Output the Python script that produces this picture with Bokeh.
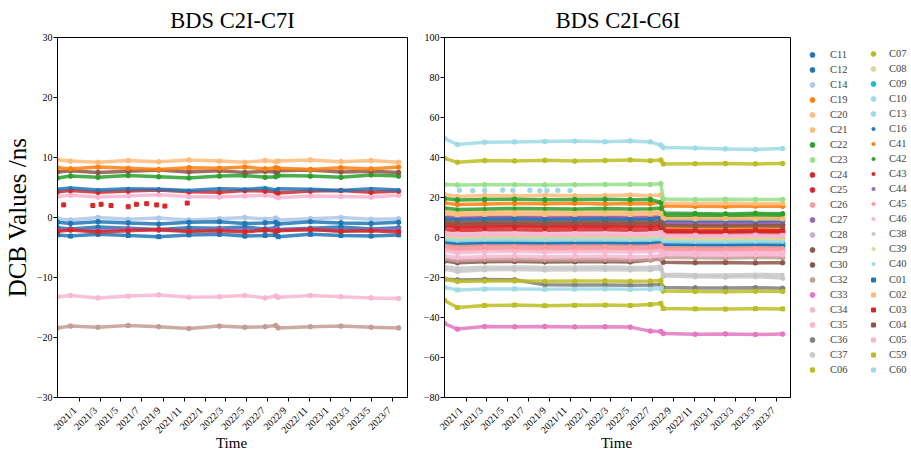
import math
import pandas as pd
from bokeh.plotting import figure
from bokeh.models import Range1d, FixedTicker, Legend, LegendItem
from bokeh.layouts import row, column
from bokeh.core.properties import value
from bokeh.embed import file_html
from bokeh.resources import INLINE

NAN = float("nan")

# ---------------- data ----------------
TICK_LABELS = ["2021/1", "2021/3", "2021/5", "2021/7", "2021/9", "2021/11",
               "2022/1", "2022/3", "2022/5", "2022/7", "2022/9", "2022/11",
               "2023/1", "2023/3", "2023/5", "2023/7"]
XLIM = ["2020-10-28", "2023-08-14"]

DATES = ["2020-10-28", "2020-12-05", "2021-02-23", "2021-05-22", "2021-08-19",
         "2021-11-15", "2022-02-12", "2022-04-27", "2022-06-25", "2022-07-26",
         "2022-08-02", "2022-11-04", "2023-02-01", "2023-04-30", "2023-07-19"]

# ---- left panel: BDS C2I-C7I ----
L_C20 = [9.6, 9.4, 9.2, 9.5, 9.3, 9.6, 9.4, 9.2, 9.5, 9.3, 9.4, 9.6, 9.3, 9.5, 9.2]
L_C19 = [8.3, 8.1, 8.4, 8.2, 8.0, 8.3, 8.2, 8.4, 8.1, 8.3, 8.2, 8.0, 8.3, 8.1, 8.4]
L_C29 = [7.6, 7.8, 7.5, 7.7, 7.9, 7.6, 7.8, 7.5, 7.7, 7.6, 7.8, 7.9, 7.6, 7.7, 7.5]
L_C22 = [6.6, 6.9, 6.7, 7.0, 6.8, 6.6, 6.9, 7.0, 6.7, 6.8, 7.0, 6.9, 6.7, 7.1, 6.9]
L_C16 = [4.7, 4.9, 4.6, 4.8, 4.7, 4.5, 4.8, 4.7, 4.9, 4.6, 4.8, 4.7, 4.5, 4.8, 4.6]
L_C24 = [4.3, 4.5, 4.2, 4.4, 4.6, 4.3, 4.2, 4.5, 4.4, 4.3, 4.1, 4.4, 4.5, 4.2, 4.4]
L_C35 = [3.5, 3.7, 3.4, 3.6, 3.8, 3.5, 3.4, 3.6, 3.7, 3.5, 3.3, 3.6, 3.5, 3.4, 3.7]
L_C14 = [-0.2, -0.4, 0.0, -0.3, -0.1, -0.4, -0.2, 0.0, -0.3, -0.1, -0.4, -0.2, 0.0, -0.3, -0.2]
L_C12 = [-0.8, -1.0, -0.7, -0.9, -1.1, -0.8, -0.7, -1.0, -0.9, -0.8, -1.1, -0.7, -0.9, -1.0, -0.8]
L_C11 = [-1.7, -1.9, -1.6, -1.8, -2.0, -1.7, -1.8, -1.6, -1.9, -1.7, -2.0, -1.8, -1.6, -1.9, -1.7]
L_C27 = [-2.1, -2.0, -2.2, -1.9, -2.1, -2.3, -2.0, -2.1, -2.2, -1.9, -2.1, -2.0, -2.2, -2.1, -2.0]
L_C25 = [-2.3, -2.1, -2.4, -2.2, -2.0, -2.3, -2.2, -2.4, -2.1, -2.3, -2.2, -2.0, -2.3, -2.2, -2.4]
L_C01 = [-2.9, -3.1, -2.8, -3.0, -3.2, -2.9, -2.8, -3.1, -3.0, -2.9, -3.2, -2.8, -3.0, -3.1, -2.9]
L_C34 = [-13.2, -13.0, -13.4, -13.1, -12.9, -13.3, -13.2, -13.0, -13.4, -13.1, -13.3, -13.0, -13.2, -13.4, -13.5]
L_C32 = [-18.4, -18.1, -18.3, -18.0, -18.2, -18.5, -18.1, -18.3, -18.2, -18.0, -18.4, -18.2, -18.1, -18.3, -18.4]
# sparse C03 points (left panel)
L_C03_DATES = ["2020-11-15", "2021-02-08", "2021-03-04", "2021-04-02", "2021-05-22",
               "2021-06-15", "2021-07-15", "2021-08-13", "2021-09-06", "2021-11-10"]
L_C03 = [2.1, 2.0, 2.2, 2.0, 1.8, 2.2, 2.3, 2.1, 1.9, 2.4]

# ---- right panel: BDS C2I-C6I ----
R_C13 = [49.5, 46.5, 47.6, 47.8, 48.0, 48.2, 47.9, 48.3, 47.8, 46.2, 45.0, 44.7, 44.3, 44.0, 44.5]
R_C07 = [39.6, 37.6, 38.5, 38.3, 38.6, 38.2, 38.5, 38.8, 38.4, 38.7, 36.8, 36.9, 37.0, 36.8, 37.0]
R_C23 = [26.5, 26.3, 26.4, 26.4, 26.3, 26.4, 26.5, 26.6, 26.5, 26.9, 19.3, 19.0, 19.1, 19.0, 19.0]
R_C20 = [21.5, 20.5, 21.0, 20.8, 21.1, 20.9, 21.0, 21.2, 20.9, 21.3, 17.2, 17.0, 17.1, 16.9, 17.0]
R_C22 = [19.5, 18.8, 19.0, 19.1, 18.9, 19.0, 19.1, 18.9, 19.0, 17.5, 12.3, 12.0, 11.8, 12.1, 11.9]
R_C19 = [17.3, 16.5, 16.8, 17.0, 16.9, 17.1, 16.8, 17.0, 16.9, 17.5, 15.8, 15.6, 15.5, 15.7, 15.6]
R_C42 = [14.8, 14.0, 14.3, 14.5, 14.4, 14.2, 14.5, 14.3, 14.4, 14.8, 11.0, 11.2, 11.0, 11.3, 11.1]
R_C21 = [13.2, 12.4, 12.8, 12.9, 12.7, 12.8, 12.9, 12.7, 12.8, 13.3, 10.2, 10.0, 9.9, 10.1, 10.0]
R_C02 = [12.0, 11.3, 11.6, 11.7, 11.5, 11.6, 11.8, 11.5, 11.7, 12.0, 9.5, 9.3, 9.4, 9.2, 9.3]
R_C27 = [10.8, 10.0, 10.3, 10.4, 10.2, 10.3, 10.4, 10.2, 10.3, 10.8, 8.3, 8.1, 8.0, 8.2, 8.1]
R_C44 = [10.2, 9.6, 9.9, 10.0, 9.8, 9.9, 10.0, 9.8, 9.9, 10.3, 7.6, 7.5, 7.4, 7.6, 7.5]
R_C29 = [9.8, 9.2, 9.5, 9.6, 9.4, 9.5, 9.6, 9.4, 9.5, 10.0, 6.5, 6.3, 6.2, 6.4, 6.3]
R_C01 = [9.3, 8.8, 9.0, 9.1, 8.9, 9.0, 9.1, 8.9, 9.0, 9.5, 8.8, 8.6, 8.7, 8.5, 8.7]
R_C41 = [8.8, 8.2, 8.5, 8.6, 8.4, 8.5, 8.6, 8.4, 8.5, 9.0, 4.8, 4.6, 4.5, 4.7, 4.6]
R_C04 = [7.5, 7.0, 7.2, 7.3, 7.1, 7.2, 7.3, 7.1, 7.2, 7.7, 6.0, 5.8, 5.7, 5.9, 5.8]
R_C24 = [7.8, 7.0, 7.5, 7.6, 7.4, 7.5, 7.6, 7.4, 7.5, 8.0, 3.1, 2.9, 2.8, 3.0, 2.9]
R_C03 = [6.2, 5.6, 5.9, 6.0, 5.8, 5.9, 6.0, 5.8, 5.9, 6.3, 3.6, 3.4, 3.3, 3.5, 3.4]
R_C25 = [5.6, 5.0, 5.3, 5.4, 5.2, 5.3, 5.4, 5.2, 5.3, 5.8, 2.5, 2.3, 2.2, 2.4, 2.3]
R_C43 = [3.9, 3.4, 3.7, 3.8, 3.6, 3.7, 3.8, 3.6, 3.7, 4.2, 1.9, 1.7, 1.6, 1.8, 1.7]
R_C05 = [2.3, 1.8, 2.0, 2.1, 1.9, 2.0, 2.1, 1.9, 2.0, 2.5, 1.3, 1.1, 1.0, 1.2, 1.1]
R_C46 = [1.5, 1.0, 1.3, 1.4, 1.2, 1.3, 1.4, 1.2, 1.3, 1.8, 0.6, 0.4, 0.3, 0.5, 0.4]
R_C08 = [1.0, 0.5, 0.8, 0.9, 0.7, 0.8, 0.9, 0.7, 0.8, 1.2, 0.0, -0.2, -0.3, -0.1, -0.2]
R_C28 = [0.5, 0.0, 0.3, 0.4, 0.2, 0.3, 0.4, 0.2, 0.3, 0.8, -0.5, -0.7, -0.8, -0.6, -0.7]
R_C39 = [-0.4, -0.9, -0.6, -0.5, -0.7, -0.6, -0.5, -0.7, -0.6, -0.2, -1.0, -1.2, -1.3, -1.1, -1.2]
R_C40 = [-1.0, -1.6, -1.3, -1.2, -1.4, -1.3, -1.2, -1.4, -1.3, -0.9, -2.0, -2.2, -2.3, -2.1, -2.2]
R_C09 = [-1.6, -2.2, -1.9, -1.8, -2.0, -1.9, -1.8, -2.0, -1.9, -1.5, -2.6, -2.8, -2.9, -2.7, -2.8]
R_C16 = [-2.2, -2.8, -2.5, -2.4, -2.6, -2.5, -2.4, -2.6, -2.5, -2.0, -3.2, -3.4, -3.5, -3.3, -3.4]
R_C11 = [-2.6, -3.4, -3.0, -2.8, -3.1, -2.9, -2.8, -3.0, -2.9, -2.3, -3.6, -3.8, -3.9, -3.7, -3.8]
R_C12 = [-3.3, -4.0, -3.6, -3.5, -3.7, -3.6, -3.5, -3.7, -3.6, -3.0, -4.4, -4.6, -4.7, -4.5, -4.6]
R_C45 = [-4.0, -4.6, -4.3, -4.2, -4.4, -4.3, -4.2, -4.4, -4.3, -3.8, -5.0, -5.2, -5.3, -5.1, -5.2]
R_C14 = [-4.8, -5.5, -5.1, -5.0, -5.2, -5.1, -5.0, -5.2, -5.1, -4.6, -5.7, -5.9, -6.0, -5.8, -5.9]
R_C26 = [-5.5, -6.2, -5.8, -5.7, -5.9, -5.8, -5.7, -5.9, -5.8, -5.3, -6.3, -6.5, -6.6, -6.4, -6.5]
R_C34 = [-6.8, -7.6, -7.1, -7.0, -7.2, -7.1, -7.0, -7.2, -7.1, -6.6, -7.4, -7.6, -7.7, -7.5, -7.6]
R_C35 = [-9.2, -10.0, -9.5, -9.4, -9.6, -9.5, -9.4, -9.6, -9.5, -9.0, -8.5, -8.7, -8.8, -8.6, -8.7]
R_C32 = [-10.8, -11.6, -11.1, -11.0, -11.2, -11.1, -11.0, -11.2, -11.1, -10.6, -9.9, -10.1, -10.2, -10.0, -10.1]
R_C30 = [-11.8, -12.6, -12.1, -12.0, -12.2, -12.1, -12.0, -12.2, -11.2, -10.8, -12.4, -12.6, -12.5, -12.7, -12.6]
R_C38 = [-14.6, -15.4, -14.9, -14.8, -15.0, -14.9, -14.8, -15.0, -14.9, -14.4, -18.4, -18.6, -18.7, -18.5, -18.6]
R_C37 = [-15.8, -17.0, -16.1, -16.0, -16.2, -16.1, -16.0, -16.2, -16.1, -15.6, -19.3, -19.6, -19.8, -19.5, -20.3]
R_C36 = [-20.8, -21.2, -21.0, -21.1, -23.6, -23.8, -23.7, -23.9, -23.8, -23.5, -25.0, -25.2, -25.3, -25.1, -25.4]
R_C06 = [-21.0, -22.0, -21.8, -21.7, -21.9, -21.8, -21.7, -21.9, -21.8, -21.5, -26.8, -27.0, -27.1, -26.9, -27.0]
R_C60 = [-25.0, -26.2, -25.8, -25.7, -25.9, -25.8, -25.7, -25.9, -25.8, -25.5, NAN, NAN, NAN, NAN, NAN]
R_C59 = [-31.5, -35.0, -34.0, -33.8, -34.1, -33.9, -33.8, -34.0, -33.5, -33.0, -35.5, -35.7, -35.8, -35.6, -35.7]
R_C33 = [-43.0, -45.8, -44.5, -44.6, -44.5, -44.7, -44.6, -44.8, -46.8, -47.0, -48.0, -48.4, -48.2, -48.5, -48.3]
# sparse C10 points (right panel)
R_C10_DATES = ["2020-12-11", "2021-01-19", "2021-02-23", "2021-04-17", "2021-05-17",
               "2021-07-06", "2021-08-04", "2021-08-25", "2021-09-26", "2021-11-01"]
R_C10 = [23.6, 23.4, 23.5, 23.7, 23.5, 23.6, 23.4, 23.5, 23.6, 23.5]

LEGEND_COL1 = ["C11", "C12", "C14", "C19", "C20", "C21", "C22", "C23", "C24", "C25", "C26",
               "C27", "C28", "C29", "C30", "C32", "C33", "C34", "C35", "C36", "C37", "C06"]
LEGEND_COL2 = ["C07", "C08", "C09", "C10", "C13", "C16", "C41", "C42", "C43", "C44", "C45",
               "C46", "C38", "C39", "C40", "C01", "C02", "C03", "C04", "C05", "C59", "C60"]

# ---------------- styles ----------------
COLOR = {
    "C11": "#1f77b4", "C12": "#1f77b4", "C14": "#aec7e8", "C19": "#ff7f0e", "C20": "#ffbb78",
    "C21": "#ffbb78", "C22": "#2ca02c", "C23": "#98df8a", "C24": "#d62728", "C25": "#d62728",
    "C26": "#ff9896", "C27": "#9467bd", "C28": "#c5b0d5", "C29": "#8c564b", "C30": "#8c564b",
    "C32": "#c49c94", "C33": "#e377c2", "C34": "#f7b6d2", "C35": "#f7b6d2", "C36": "#7f7f7f",
    "C37": "#c7c7c7", "C06": "#bcbd22", "C07": "#bcbd22", "C08": "#dbdb8d", "C09": "#17becf",
    "C10": "#9edae5", "C13": "#9edae5", "C16": "#1f77b4", "C41": "#ff7f0e", "C42": "#2ca02c",
    "C43": "#d62728", "C44": "#9467bd", "C45": "#ff9896", "C46": "#f7b6d2", "C38": "#c7c7c7",
    "C39": "#dbdb8d", "C40": "#9edae5", "C01": "#1f77b4", "C02": "#ffbb78", "C03": "#d62728",
    "C04": "#8c564b", "C05": "#f7b6d2", "C59": "#bcbd22", "C60": "#9edae5",
}
SMALL = {"C16", "C41", "C42", "C43", "C44", "C45", "C46", "C38", "C39", "C40"}
SQUARE = {"C01", "C02", "C03", "C04", "C05", "C59", "C60"}

SERIF = "Liberation Serif"
BASE = pd.Timestamp("2021-01-01")


def to_days(ds):
    return [(pd.Timestamp(d) - BASE).days for d in ds]


def label_day(lab):
    y, m = lab.split("/")
    return (pd.Timestamp(int(y), int(m), 1) - BASE).days


TICK_X = [label_day(t) for t in TICK_LABELS]
X0, X1 = to_days(XLIM)
XD = to_days(DATES)

TOP = 29         # title band above the frames
FH = 368         # frame height
BOTTOM = 7       # tick marks below the frames
TOP_H = TOP + FH + BOTTOM
LAB_H = 45       # tick-label / "Time" strip below
PAD = 5          # extra room left of the strip frames (same scale)

W1, L1, R1 = 420, 55, 13     # left figure: width, left border, right border
W2, L2, R2 = 371, 21, 0      # right figure
W3 = 120                     # legend column


def marker_of(s):
    if s in SQUARE:
        return "square", 4.0
    if s in SMALL:
        return "circle", 3.0
    return "circle", 4.6


def style(p, yticks):
    p.title.text_font = SERIF
    p.title.text_font_size = "22.5px"
    p.title.text_font_style = "normal"
    p.title.align = "center"
    p.title.text_color = "black"
    p.xgrid.visible = False
    p.ygrid.visible = False
    p.outline_line_color = "black"
    p.outline_line_width = 1
    p.xaxis.ticker = FixedTicker(ticks=TICK_X)
    p.xaxis.major_label_overrides = {int(t): "" for t in TICK_X}
    p.xaxis.major_label_text_font_size = "0px"
    p.xaxis.major_label_standoff = 0
    p.yaxis.ticker = FixedTicker(ticks=yticks)
    p.yaxis.major_label_text_font = SERIF
    p.yaxis.major_label_text_font_size = "10px"
    p.yaxis.major_label_text_color = "black"
    p.yaxis.major_label_standoff = 1
    for ax in (p.xaxis, p.yaxis):
        ax.axis_line_color = "black"
        ax.major_tick_line_color = "black"
        ax.minor_tick_line_color = None
        ax.major_tick_in = 0
        ax.major_tick_out = 4
        ax.axis_label_text_font = SERIF
        ax.axis_label_text_font_style = "normal"
        ax.axis_label_text_color = "black"


def label_strip(width, left, right):
    frame_w = width - left - right
    span = X1 - X0
    q = figure(width=width, height=LAB_H, title=None, output_backend="svg",
               toolbar_location=None,
               x_range=Range1d(X0 - span * PAD / frame_w, X1), y_range=Range1d(-LAB_H, 0),
               x_axis_location=None, y_axis_location=None,
               min_border_left=left - PAD, min_border_right=right,
               min_border_top=0, min_border_bottom=0)
    q.outline_line_color = None
    q.xgrid.visible = False
    q.ygrid.visible = False
    q.text(x=TICK_X, y=[-4] * len(TICK_X), text=TICK_LABELS, angle=math.pi / 4,
           text_align="right", text_baseline="middle", x_offset=-3,
           text_font=value(SERIF), text_font_size=value("10px"), text_color="black")
    q.text(x=[(X0 + X1) / 2], y=[-38], text=["Time"], text_align="center",
           text_baseline="middle", text_font=value(SERIF), text_font_size=value("15px"),
           text_color="black")
    return q


def draw(p, name, xs, ys, lw, with_line=True):
    mk, sz = marker_of(name)
    c = COLOR[name]
    if with_line:
        p.line(xs, ys, line_color=c, line_width=lw, line_alpha=0.85)
    p.scatter(xs, ys, marker=mk, size=sz, fill_color=c, line_color=c)


# ---------------- left figure ----------------
p1 = figure(width=W1, height=TOP_H, title="BDS C2I-C7I", output_backend="svg",
            toolbar_location=None, x_range=Range1d(X0, X1), y_range=Range1d(-30, 30),
            min_border_left=L1, min_border_right=R1, min_border_top=TOP, min_border_bottom=BOTTOM)
style(p1, [-30, -20, -10, 0, 10, 20, 30])
p1.yaxis.axis_label = "DCB Values /ns"
p1.yaxis.axis_label_text_font_size = "25px"
p1.yaxis.axis_label_standoff = 3

LEFT = [("C32", L_C32), ("C34", L_C34), ("C14", L_C14), ("C12", L_C12), ("C11", L_C11),
        ("C01", L_C01), ("C27", L_C27), ("C25", L_C25), ("C35", L_C35), ("C24", L_C24),
        ("C16", L_C16), ("C22", L_C22), ("C29", L_C29), ("C19", L_C19), ("C20", L_C20)]
for name, vals in LEFT:
    draw(p1, name, XD, vals, 3.5)
draw(p1, "C03", to_days(L_C03_DATES), L_C03, 0, with_line=False)

# ---------------- right figure ----------------
p2 = figure(width=W2, height=TOP_H, title="BDS C2I-C6I", output_backend="svg",
            toolbar_location=None, x_range=Range1d(X0, X1), y_range=Range1d(-80, 100),
            min_border_left=L2, min_border_right=R2, min_border_top=TOP, min_border_bottom=BOTTOM)
style(p2, [-80, -60, -40, -20, 0, 20, 40, 60, 80, 100])

RIGHT = {
    "C11": R_C11, "C12": R_C12, "C14": R_C14, "C19": R_C19, "C20": R_C20, "C21": R_C21,
    "C22": R_C22, "C23": R_C23, "C24": R_C24, "C25": R_C25, "C26": R_C26, "C27": R_C27,
    "C28": R_C28, "C29": R_C29, "C30": R_C30, "C32": R_C32, "C33": R_C33, "C34": R_C34,
    "C35": R_C35, "C36": R_C36, "C37": R_C37, "C06": R_C06, "C07": R_C07, "C08": R_C08,
    "C09": R_C09, "C13": R_C13, "C16": R_C16, "C41": R_C41, "C42": R_C42, "C43": R_C43,
    "C44": R_C44, "C45": R_C45, "C46": R_C46, "C38": R_C38, "C39": R_C39, "C40": R_C40,
    "C01": R_C01, "C02": R_C02, "C03": R_C03, "C04": R_C04, "C05": R_C05, "C59": R_C59,
    "C60": R_C60,
}
for name in LEGEND_COL1 + LEGEND_COL2:
    if name == "C10":
        draw(p2, "C10", to_days(R_C10_DATES), R_C10, 0, with_line=False)
    else:
        draw(p2, name, XD, RIGHT[name], 3.5)

# ---------------- tick-label strips ----------------
q1 = label_strip(W1, L1, R1)
q2 = label_strip(W2, L2, R2)

# ---------------- legend figure ----------------
p3 = figure(width=W3, height=TOP_H, title=None, output_backend="svg", toolbar_location=None,
            x_range=Range1d(0, 1), y_range=Range1d(0, 1), x_axis_type=None, y_axis_type=None,
            min_border_left=0, min_border_right=0, min_border_top=TOP, min_border_bottom=BOTTOM)
p3.outline_line_color = None
p3.xgrid.visible = False
p3.ygrid.visible = False

FRAME_BOTTOM = TOP + FH      # content y of the frame bottom
ROW0_TOP = 46.5
ROW_H = 15


def legend_block(names, start_row, x0, glyph_w, standoff):
    items = []
    for n in names:
        mk, _ = marker_of(n)
        # one point outside the visible range: only the legend glyph shows
        r = p3.scatter(x=[-10], y=[-10], marker=mk, fill_color=COLOR[n], line_color=COLOR[n])
        items.append(LegendItem(label=n, renderers=[r]))
    bottom = ROW0_TOP + ROW_H * (start_row + len(names))
    lg = Legend(items=items, location=(x0, int(round(FRAME_BOTTOM - bottom))),
                orientation="vertical",
                glyph_width=glyph_w, glyph_height=ROW_H, label_height=ROW_H, spacing=0,
                padding=0, margin=0, label_standoff=standoff,
                label_text_font=SERIF, label_text_font_size="10.5px",
                border_line_color=None, background_fill_alpha=0)
    p3.add_layout(lg, "center")


legend_block(LEGEND_COL1, 0, 15, 12, 12)
legend_block(LEGEND_COL2[0:5], 0, 76, 12, 10)
legend_block(LEGEND_COL2[5:15], 5, 78, 8, 12)
legend_block(LEGEND_COL2[15:22], 15, 77, 10, 11)

layout = column(row(p1, p2, p3), row(q1, q2))
open("out.html", "w").write(file_html(layout, INLINE))
